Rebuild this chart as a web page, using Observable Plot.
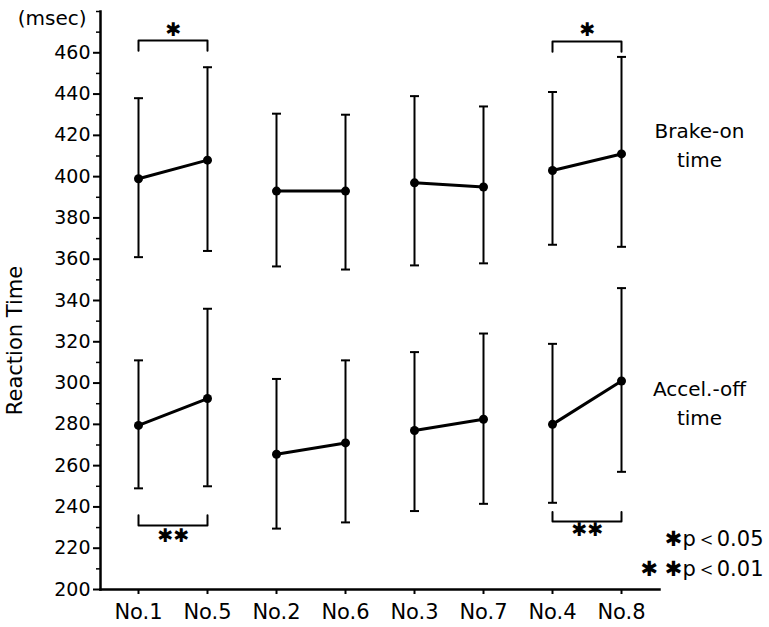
<!DOCTYPE html>
<html>
<head>
<meta charset="utf-8">
<script src="https://cdn.jsdelivr.net/npm/d3@7"></script>
<script src="https://cdn.jsdelivr.net/npm/@observablehq/plot@0.6"></script>
<style>
  html, body { margin: 0; padding: 0; background: white; }
  #chart svg { display: block; }
</style>
</head>
<body>
<div id="chart"></div>
<script>
// ---- data ----
const labels = ["No.1", "No.5", "No.2", "No.6", "No.3", "No.7", "No.4", "No.8"];
const pairIds = ["A", "A", "B", "B", "C", "C", "D", "D"];

const brakeMean  = [399, 408, 393, 393, 397, 395, 403, 411];
const brakeUpper = [438, 453, 430.5, 430, 439, 434, 441, 458];
const brakeLower = [361, 364, 356.5, 355, 357, 358, 367, 366];

const accelMean  = [279.5, 292.5, 265.5, 271, 277, 282.5, 280, 301];
const accelUpper = [311, 336, 302, 311, 315, 324, 319, 346];
const accelLower = [249, 250, 229.5, 232.5, 238, 241.5, 242, 257];

const yTicks = [200, 220, 240, 260, 280, 300, 320, 340, 360, 380, 400, 420, 440, 460];
const yMinorTicks = [210, 230, 250, 270, 290, 310, 330, 350, 370, 390, 410, 430, 450, 470, 480];

// significance brackets
const sigFrom  = ["No.1", "No.4", "No.1", "No.4"];
const sigTo    = ["No.5", "No.8", "No.5", "No.8"];
const sigBar   = [466, 465.5, 231, 233];
const sigEnd   = [461, 460.5, 236, 237.5];
const sigStarY = [471, 471, 226, 229];
const sigMark  = ["✱", "✱", "✱✱", "✱✱"];

const groupNames = ["Brake-on\ntime", "Accel.-off\ntime"];
const groupLabelY = [416, 291];

const legendText = ["✱p＜0.05", "✱ ✱p＜0.01"];
const legendY = [224.5, 210];

// ---- tables ----
const rows = [];
labels.forEach((lab, i) => {
  rows.push({label: lab, pair: "brake-" + pairIds[i], mean: brakeMean[i], hi: brakeUpper[i], lo: brakeLower[i]});
  rows.push({label: lab, pair: "accel-" + pairIds[i], mean: accelMean[i], hi: accelUpper[i], lo: accelLower[i]});
});

const bracketPts = [];
sigFrom.forEach((f, i) => {
  bracketPts.push({x: f, y: sigEnd[i], k: i});
  bracketPts.push({x: f, y: sigBar[i], k: i});
  bracketPts.push({x: sigTo[i], y: sigBar[i], k: i});
  bracketPts.push({x: sigTo[i], y: sigEnd[i], k: i});
});
const stars = sigFrom.map((f, i) => ({x: f, y: sigStarY[i], t: sigMark[i]}));
const groups = groupNames.map((g, i) => ({t: g, y: groupLabelY[i]}));
const legend = legendText.map((t, i) => ({t, y: legendY[i]}));

// horizontal cap symbol for error bars
const capSymbol = {
  draw(context, size) {
    const r = Math.sqrt(size / Math.PI);
    context.moveTo(-r, 0);
    context.lineTo(r, 0);
  }
};

const chart = Plot.plot({
  width: 769,
  height: 627,
  marginLeft: 100,
  marginRight: 110,
  marginTop: 11,
  marginBottom: 38,
  style: {fontFamily: "DejaVu Sans, sans-serif", fontSize: "18px", color: "black", background: "white"},
  x: {type: "point", domain: labels, padding: 0.5},
  y: {domain: [200, 480]},
  marks: [
    Plot.axisY({ticks: yMinorTicks, tickSize: 4, tickFormat: () => "", strokeWidth: 1.5, label: null}),
    Plot.axisY({ticks: yTicks, tickSize: 7, tickPadding: 3, strokeWidth: 2, label: null, fontSize: 19}),
    Plot.axisX({tickSize: 5, tickPadding: 10, strokeWidth: 2, label: null, fontSize: 21}),
    Plot.frame({anchor: "left", strokeWidth: 2.5}),
    Plot.frame({anchor: "bottom", strokeWidth: 2.5}),
    // error bars
    Plot.ruleX(rows, {x: "label", y1: "lo", y2: "hi", strokeWidth: 2}),
    Plot.dot(rows, {x: "label", y: "hi", symbol: capSymbol, r: 4.5, stroke: "black", fill: "none", strokeWidth: 2}),
    Plot.dot(rows, {x: "label", y: "lo", symbol: capSymbol, r: 4.5, stroke: "black", fill: "none", strokeWidth: 2}),
    // means
    Plot.line(rows, {x: "label", y: "mean", z: "pair", strokeWidth: 3}),
    Plot.dot(rows, {x: "label", y: "mean", r: 4.5, fill: "black"}),
    // significance
    Plot.line(bracketPts, {x: "x", y: "y", z: "k", strokeWidth: 2}),
    Plot.text(stars, {x: "x", y: "y", text: "t", dx: 35, fontSize: 19, fontWeight: "bold", lineAnchor: "middle"}),
    // group labels
    Plot.text(groups, {x: () => "No.8", y: "y", text: "t", dx: 78, fontSize: 20, lineHeight: 1.45, lineAnchor: "middle"}),
    // legend
    Plot.text(legend, {x: () => "No.8", y: "y", text: "t", dx: 142, textAnchor: "end", fontSize: 21, lineAnchor: "middle"}),
    // units & axis title
    Plot.text(["(msec)"], {frameAnchor: "top-left", text: d => d, textAnchor: "end", lineAnchor: "middle", dx: -14, dy: 7, fontSize: 20}),
    Plot.text(["Reaction Time"], {frameAnchor: "left", text: d => d, rotate: -90, textAnchor: "middle", lineAnchor: "middle", dx: -85, dy: 40, fontSize: 21})
  ]
});
document.getElementById("chart").appendChild(chart);
</script>
</body>
</html>
